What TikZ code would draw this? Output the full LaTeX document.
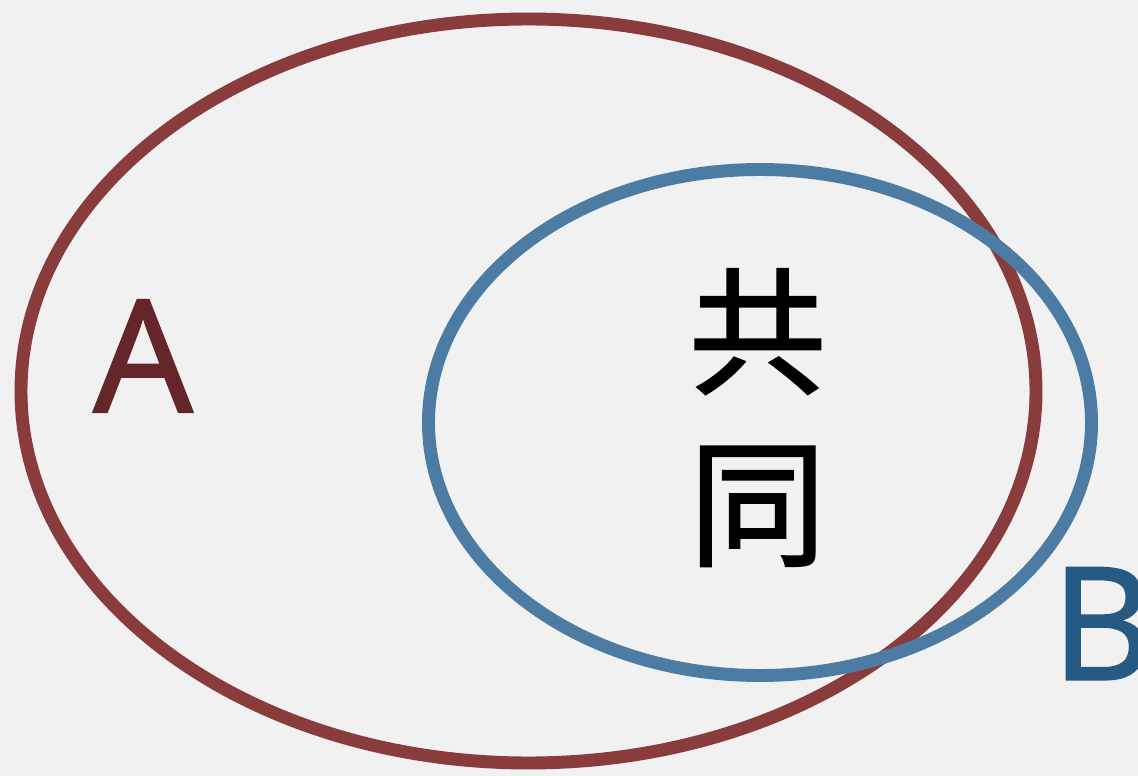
\documentclass[tikz,border=0pt]{standalone}
\usepackage{fontspec}
\setmainfont{Open Sans}
\newfontfamily\labelfont[FakeBold=1.6]{Open Sans}
\newfontfamily\cjk[FakeBold=1.4]{Noto Sans CJK SC}
\usetikzlibrary{shapes.geometric}
\definecolor{setred}{HTML}{8A3B3C}
\definecolor{labelred}{HTML}{65262A}
\definecolor{setblue}{HTML}{4C7BA3}
\definecolor{labelblue}{HTML}{275A82}
\definecolor{paper}{HTML}{F1F1F1}
\begin{document}
\begin{tikzpicture}[set node/.style={ellipse,draw,line width=9.2pt,inner sep=0pt},
    letter node/.style={inner sep=0pt,font=\labelfont\fontsize{111}{111}\selectfont},
    han node/.style={inner sep=0pt,font=\cjk\fontsize{98}{98}\selectfont}]

            \fill[paper] (0,0) rectangle (28.45,-19.4);
            \useasboundingbox (0,0) rectangle (28.45,-19.4);

            \node[set node, draw=setred, minimum width=25.375cm, minimum height=18.6cm] (A) at (13.2125,-9.775) {};
            \node[set node, draw=setblue, minimum width=16.575cm, minimum height=12.65cm] (B) at (19.0,-10.5625) {};

            \node[letter node, text=labelred] (labelA) at (3.575,-8.9) {A};
            \node[letter node, text=labelblue] (labelB) at (27.55,-15.59) {B};
            \node[han node] (gong) at (18.94,-8.29) {共};
            \node[han node] (tong) at (18.94,-12.66) {同};

            ;
        \end{tikzpicture}
\end{document}
